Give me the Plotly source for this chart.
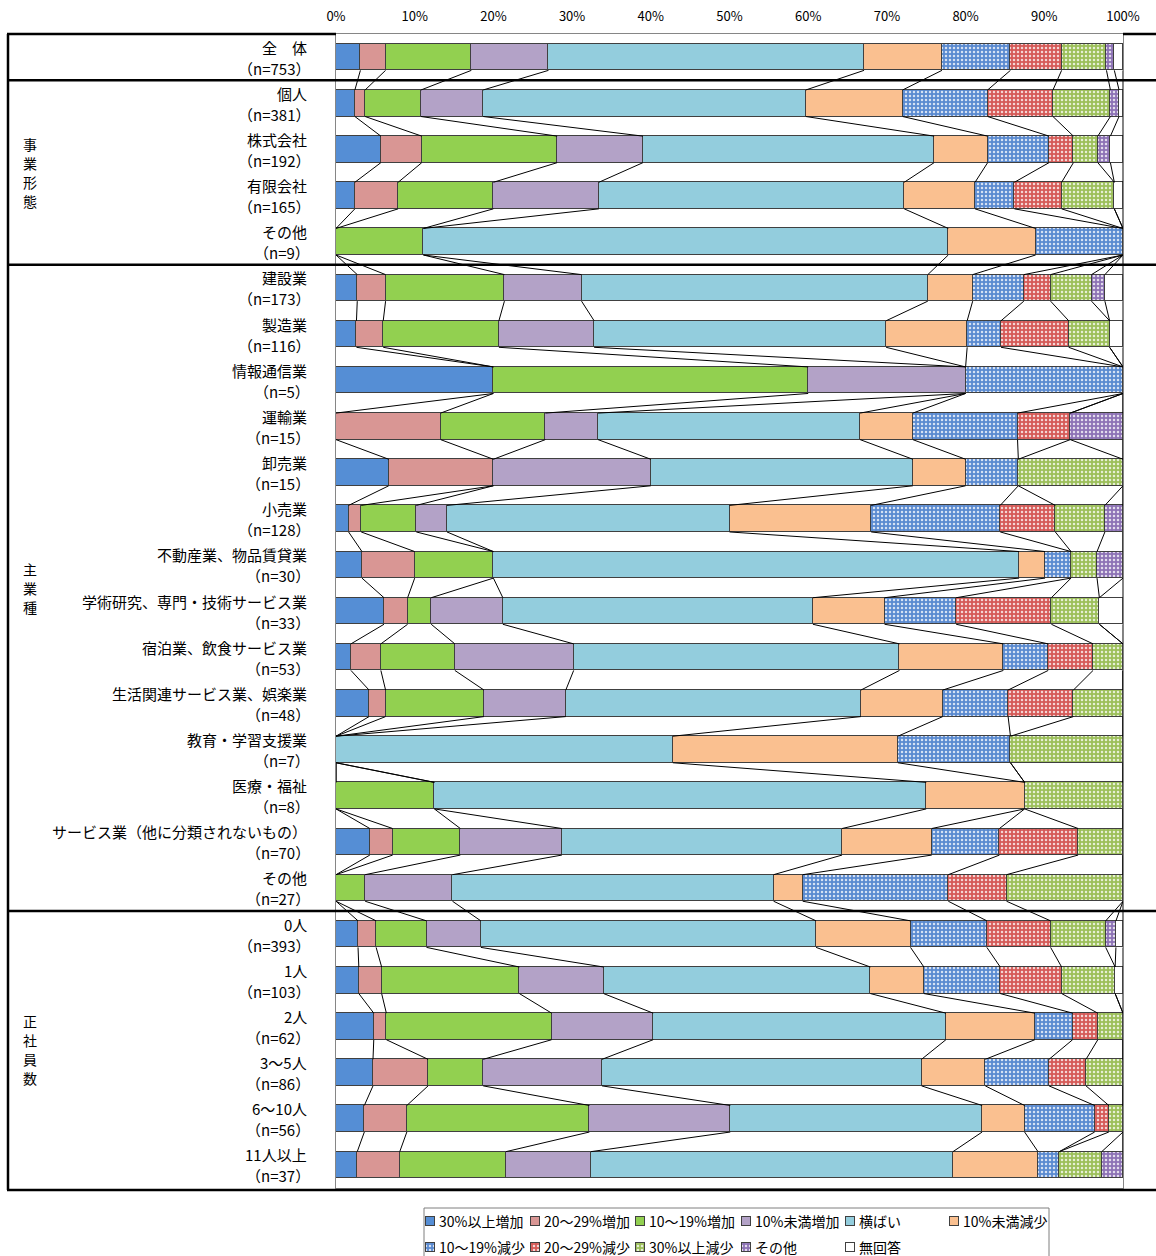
import plotly.graph_objects as go

# ---- data -------------------------------------------------------------
categories = [
    "全　体", "個人", "株式会社", "有限会社", "その他",
    "建設業", "製造業", "情報通信業", "運輸業", "卸売業", "小売業",
    "不動産業、物品賃貸業", "学術研究、専門・技術サービス業",
    "宿泊業、飲食サービス業", "生活関連サービス業、娯楽業",
    "教育・学習支援業", "医療・福祉", "サービス業（他に分類されないもの）", "その他",
    "0人", "1人", "2人", "3～5人", "6～10人", "11人以上",
]
sample_sizes = [753, 381, 192, 165, 9, 173, 116, 5, 15, 15, 128, 30, 33,
                53, 48, 7, 8, 70, 27, 393, 103, 62, 86, 56, 37]

group_titles = ["事業形態", "主業種", "正社員数"]
group_first_rows = [1, 5, 19]

series_names = ["30%以上増加", "20～29%増加", "10～19%増加", "10%未満増加", "横ばい",
                "10%未満減少", "10～19%減少", "20～29%減少", "30%以上減少", "その他", "無回答"]

inc_30_plus = [3.1, 2.4, 5.7, 2.4, 0, 2.7, 2.6, 20.0, 0, 6.7, 1.6, 3.3, 6.1,
               1.9, 4.2, 0, 0, 4.3, 0, 2.8, 2.9, 4.8, 4.7, 3.6, 2.7]
inc_20_29 = [3.2, 1.3, 5.2, 5.5, 0, 3.6, 3.4, 0, 13.3, 13.3, 1.6, 6.7, 3.0,
             3.8, 2.1, 0, 0, 2.9, 0, 2.3, 2.9, 1.6, 7.0, 5.4, 5.4]
inc_10_19 = [10.9, 7.1, 17.2, 12.1, 11.1, 15.1, 14.7, 40.0, 13.3, 0, 7.0, 10.0, 3.0,
             9.4, 12.5, 0, 12.5, 8.6, 3.7, 6.4, 17.5, 21.0, 7.0, 23.2, 13.5]
inc_under_10 = [9.8, 7.9, 10.9, 13.4, 0, 9.8, 12.1, 20.0, 6.7, 20.0, 3.9, 0, 9.1,
                15.1, 10.4, 0, 0, 12.9, 11.1, 6.9, 10.7, 12.9, 15.1, 17.9, 10.8]
flat = [40.1, 41.0, 37.0, 38.8, 66.7, 44.0, 37.1, 0, 33.3, 33.3, 35.9, 66.8, 39.4,
        41.4, 37.5, 42.8, 62.5, 35.6, 40.8, 42.6, 33.9, 37.2, 40.6, 32.0, 46.0]
dec_under_10 = [9.9, 12.3, 6.8, 9.0, 11.1, 5.7, 10.3, 0, 6.7, 6.7, 18.0, 3.3, 9.1,
                13.2, 10.4, 28.6, 12.5, 11.4, 3.7, 12.0, 6.8, 11.3, 8.1, 5.4, 10.8]
dec_10_19 = [8.7, 10.8, 7.8, 5.0, 11.1, 6.5, 4.3, 20.0, 13.3, 6.7, 16.4, 3.3, 9.1,
             5.7, 8.3, 14.3, 0, 8.6, 18.5, 9.7, 9.7, 4.8, 8.1, 8.9, 2.7]
dec_20_29 = [6.5, 8.3, 3.1, 6.0, 0, 3.4, 8.6, 0, 6.7, 0, 7.0, 0, 12.1,
             5.7, 8.3, 0, 0, 10.0, 7.4, 8.1, 7.8, 3.2, 4.7, 1.8, 0]
dec_30_plus = [5.7, 7.3, 3.1, 6.7, 0, 5.2, 5.2, 0, 0, 13.3, 6.3, 3.3, 6.1,
               3.8, 6.3, 14.3, 12.5, 5.7, 14.8, 7.0, 6.8, 3.2, 4.7, 1.8, 5.4]
other = [1.0, 1.1, 1.6, 0, 0, 1.7, 0, 0, 6.7, 0, 2.3, 3.3, 0,
         0, 0, 0, 0, 0, 0, 1.3, 0, 0, 0, 0, 2.7]
no_answer = [1.1, 0.5, 1.6, 1.1, 0, 2.3, 1.7, 0, 0, 0, 0, 0, 3.0,
             0, 0, 0, 0, 0, 0, 0.9, 1.0, 0, 0, 0, 0]

series_values = [inc_30_plus, inc_20_29, inc_10_19, inc_under_10, flat, dec_under_10,
                 dec_10_19, dec_20_29, dec_30_plus, other, no_answer]

tick_values = list(range(0, 101, 10))

# ---- styles -----------------------------------------------------------
series_colors = ["#558ED5", "#D99694", "#92D050", "#B3A2C7", "#93CDDD", "#FAC090",
                 "#5A8AD0", "#D55A57", "#9CBF5A", "#8D72B5", "#FFFFFF"]
series_dotted = [False] * 6 + [True] * 4 + [False]

W, H = 1156, 1256
PLOT_L, PLOT_R, PLOT_T, PLOT_B = 336, 1123, 34, 1188
BAR_W = 0.575
FONT = "Noto Sans CJK JP"
OUTLINE = "#404040"


def px(x):
    return x / W


def py(y):
    return 1 - y / H


def marker_for(i):
    m = dict(color=series_colors[i], line=dict(color=OUTLINE, width=1))
    if series_dotted[i]:
        m["pattern"] = dict(shape=".", bgcolor=series_colors[i],
                            fgcolor="rgba(255,255,255,0.75)", size=4,
                            solidity=0.3, fillmode="replace")
    return m


rows = list(range(len(categories)))
fig = go.Figure()

# stacked bars
for i, (name, vals) in enumerate(zip(series_names, series_values)):
    fig.add_trace(go.Bar(y=rows, x=vals, orientation="h", name=name, width=BAR_W,
                         marker=marker_for(i), showlegend=False,
                         xaxis="x", yaxis="y"))

# series lines joining the end of each segment between neighbouring bars
cum = []
for r in rows:
    run, acc = 0.0, []
    for vals in series_values:
        run += vals[r]
        acc.append(run)
    cum.append(acc)

lx, ly = [], []
for s in range(len(series_values)):
    for r in rows[:-1]:
        lx += [cum[r][s], cum[r + 1][s], None]
        ly += [r + BAR_W / 2, r + 1 - BAR_W / 2, None]
fig.add_trace(go.Scatter(x=lx, y=ly, mode="lines", line=dict(color="#000000", width=1),
                         showlegend=False, hoverinfo="skip", xaxis="x", yaxis="y"))

# legend: swatches drawn on a pixel-scaled overlay axis, labels as text
legend_cols = [426, 531, 636, 742, 846, 950]
legend_rows_y = [1221, 1247]
SW = 9
annotations = []
for i, name in enumerate(series_names):
    row_i, col_i = divmod(i, 6)
    x0 = legend_cols[col_i]
    yc = legend_rows_y[row_i]
    fig.add_trace(go.Bar(x=[SW], base=[x0], y=[yc], width=[SW], orientation="h",
                         marker=marker_for(i), showlegend=False, hoverinfo="skip",
                         xaxis="x2", yaxis="y2"))
    annotations.append(dict(x=px(x0 + SW + 2), y=py(yc), xref="paper", yref="paper",
                            text=name, showarrow=False, xanchor="left", yanchor="middle",
                            font=dict(family=FONT, size=14, color="#000000")))

# row labels: name above, sample size below
for r, (cat, n) in enumerate(zip(categories, sample_sizes)):
    annotations.append(dict(x=px(309), y=r, xref="paper", yref="y", yshift=10,
                            text=cat, showarrow=False, xanchor="right", yanchor="middle",
                            font=dict(family=FONT, size=15, color="#000000")))
    annotations.append(dict(x=px(312), y=r, xref="paper", yref="y", yshift=-11,
                            text=f"（n={n}）", showarrow=False, xanchor="right",
                            yanchor="middle",
                            font=dict(family=FONT, size=15, color="#000000")))

# vertical group titles
group_last_rows = group_first_rows[1:] + [len(categories)]
for title, first, nxt in zip(group_titles, group_first_rows, group_last_rows):
    mid = (first + nxt - 1) / 2
    k = len(title)
    for j, ch in enumerate(title):
        annotations.append(dict(x=px(30), y=mid, xref="paper", yref="y",
                                yshift=-(j - (k - 1) / 2) * 19,
                                text=ch, showarrow=False, xanchor="center",
                                yanchor="middle",
                                font=dict(family=FONT, size=14, color="#000000")))

# table rules
LW = 2.5
shapes = [
    dict(type="line", xref="paper", yref="paper", x0=px(8), x1=px(8),
         y0=py(PLOT_T), y1=py(1190), line=dict(color="#000", width=LW)),
    dict(type="line", xref="paper", yref="paper", x0=px(7), x1=px(PLOT_L),
         y0=py(PLOT_T), y1=py(PLOT_T), line=dict(color="#000", width=LW)),
    dict(type="line", xref="paper", yref="paper", x0=px(PLOT_R), x1=1,
         y0=py(PLOT_T), y1=py(PLOT_T), line=dict(color="#000", width=LW)),
    dict(type="line", xref="paper", yref="paper", x0=px(7), x1=1,
         y0=py(1190), y1=py(1190), line=dict(color="#000", width=LW)),
]
for first in group_first_rows:
    shapes.append(dict(type="line", xref="paper", yref="y", x0=px(7), x1=1,
                       y0=first - 0.5, y1=first - 0.5, line=dict(color="#000", width=LW)))
# legend frame
shapes.append(dict(type="rect", xref="paper", yref="paper", x0=px(424), x1=px(1049),
                   y0=py(1208), y1=py(1264), line=dict(color="#7F7F7F", width=1),
                   fillcolor="rgba(0,0,0,0)", layer="below"))

fig.update_layout(
    width=W, height=H, autosize=False,
    margin=dict(l=0, r=0, t=0, b=0, pad=0, autoexpand=False),
    paper_bgcolor="#FFFFFF", plot_bgcolor="rgba(0,0,0,0)",
    barmode="stack", bargap=0,
    showlegend=False,
    font=dict(family=FONT, color="#000000"),
    xaxis=dict(domain=[px(PLOT_L), px(PLOT_R)], range=[0, 100], side="top",
               tickvals=tick_values, ticktext=[f"{v}%" for v in tick_values],
               tickfont=dict(family=FONT, size=13, color="#000000"),
               ticks="", ticklabelstandoff=7, showgrid=False, zeroline=False,
               showline=True, mirror=True, linecolor="#868686", linewidth=1,
               anchor="y", fixedrange=True, automargin=False),
    yaxis=dict(domain=[py(PLOT_B), py(PLOT_T)], range=[len(rows) - 0.5, -0.5],
               showticklabels=False, ticks="", showgrid=False, zeroline=False,
               showline=True, mirror=True, linecolor="#868686", linewidth=1,
               anchor="x", fixedrange=True, automargin=False),
    xaxis2=dict(domain=[0, 1], range=[0, W], visible=False, anchor="y2",
                fixedrange=True, automargin=False),
    yaxis2=dict(domain=[0, 1], range=[H, 0], visible=False, anchor="x2",
                fixedrange=True, automargin=False),
    annotations=annotations,
    shapes=shapes,
)

fig.write_html("out.html", config={"displayModeBar": False, "responsive": False})
